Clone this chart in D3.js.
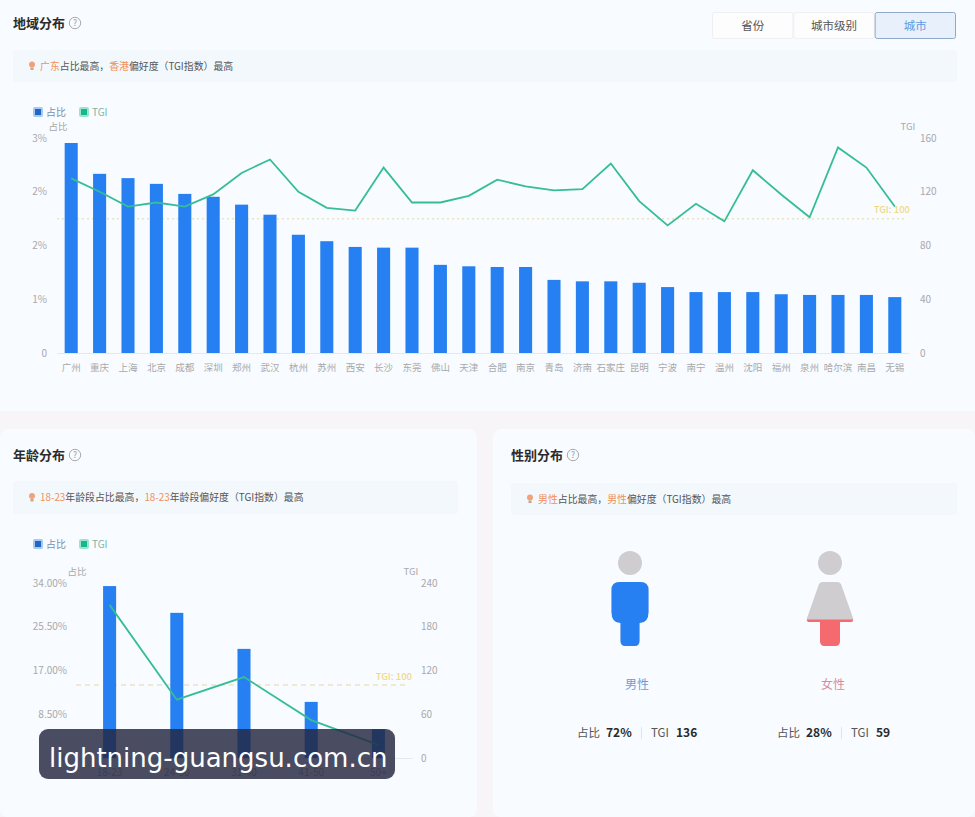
<!DOCTYPE html>
<html><head><meta charset="utf-8">
<script src="https://cdn.jsdelivr.net/npm/d3@7"></script>
<style>html,body{margin:0;padding:0;background:#f7f5f8;overflow:hidden}svg{display:block}text{font-family:"Noto Sans CJK SC","Noto Sans",sans-serif}</style>
</head><body><svg id="c" width="975" height="817"></svg>
<script>
const cities=["广州","重庆","上海","北京","成都","深圳","郑州","武汉","杭州","苏州","西安","长沙","东莞","佛山","天津","合肥","南京","青岛","济南","石家庄","昆明","宁波","南宁","温州","沈阳","福州","泉州","哈尔滨","南昌","无锡"];
const cityShare=[2.93,2.50,2.44,2.36,2.22,2.18,2.07,1.93,1.65,1.56,1.48,1.47,1.47,1.23,1.21,1.20,1.20,1.02,1.00,1.00,0.98,0.92,0.85,0.85,0.85,0.82,0.81,0.81,0.81,0.78];
const cityTgi=[130,120,109,112,109,118,134,144,120,108,106,138,112,112,117,129,124,121,122,141,113,95,111,98,136,118,101,153,138,109];
const cityShareTicks=[0,0.75,1.5,2.25,3];
const cityShareLabels=["0","1%","2%","2%","3%"];
const cityTgiTicks=[0,40,80,120,160];
const ages=["18-23","24-30","31-40","41-50","50+"];
const ageShare=[33.4,28.2,21.2,10.9,5.6];
const ageTgi=[210,80,111,52,18];
const ageShareTicks=[0,8.5,17,25.5,34];
const ageShareLabels=["0","8.50%","17.00%","25.50%","34.00%"];
const ageTgiTicks=[0,60,120,180,240];
const genders=["男性","女性"];
const genderShare=[72,28];
const genderTgi=[136,59];
const tabs=["省份","城市级别","城市"];
const TGI_REF=100;

const BLUE="#2680f2",GREEN="#35bd98",ORANGE="#f0905a",GREY="#a9a9ab";
const svg=d3.select("#c");

// cards
const cards=[[0,0,975,411,0],[0,429,477,388,8],[493,429,482,388,8]];
svg.append("g").selectAll("rect").data(cards).join("rect")
 .attr("x",d=>d[0]).attr("y",d=>d[1]).attr("width",d=>d[2]).attr("height",d=>d[3]).attr("rx",d=>d[4])
 .attr("fill","#f8fbff");

function title(x,y,t){
 svg.append("text").attr("x",x).attr("y",y+4.5).attr("font-size",13).attr("font-weight",700).attr("fill","#2b2b2b").text(t);
 const cx=x+62;
 svg.append("circle").attr("cx",cx).attr("cy",y).attr("r",5.7).attr("fill","none").attr("stroke","#aaa");
 svg.append("text").attr("x",cx).attr("y",y+3).attr("font-size",8.5).attr("text-anchor","middle").attr("fill","#999").text("?");
}
function tip(x,y,w,h,parts){
 svg.append("rect").attr("x",x).attr("y",y).attr("width",w).attr("height",h).attr("rx",3).attr("fill","#f3f8fd");
 const cy=y+h/2;
 svg.append("circle").attr("cx",x+19).attr("cy",cy-1.5).attr("r",3).attr("fill","#f1a27a");
 svg.append("rect").attr("x",x+17.5).attr("y",cy+1.5).attr("width",3).attr("height",2.5).attr("fill","#c9a58e");
 const t=svg.append("text").attr("x",x+27).attr("y",cy+3.5).attr("font-size",9.9).attr("fill","#555");
 parts.forEach(p=>t.append("tspan").attr("fill",p[1]?ORANGE:"#555").text(p[0]));
}
function legend(y){
 [[33,"#a9c8ee","#1f66c8","占比","#7f8fa5"],[79,"#9fe3cf","#12b98c","TGI","#7fb5a5"]].forEach(l=>{
  svg.append("rect").attr("x",l[0]).attr("y",y).attr("width",10).attr("height",10).attr("rx",2).attr("fill",l[1]);
  svg.append("rect").attr("x",l[0]+2).attr("y",y+2).attr("width",6).attr("height",6).attr("fill",l[2]);
  svg.append("text").attr("x",l[0]+13).attr("y",y+8.5).attr("font-size",10).attr("fill",l[4]).text(l[3]);
 });
}
function combo(o){
 const g=svg.append("g");
 const x=d3.scaleBand().domain(o.cats).range(o.xr).paddingInner(o.pad).paddingOuter(o.pad/2);
 const y=d3.scaleLinear().domain(o.sd).range(o.yr);
 const y2=d3.scaleLinear().domain(o.td).range(o.yr);
 // axes
 const left=d3.axisLeft(y).tickValues(o.sTicks).tickFormat((d,i)=>o.sLabels[i]).tickSize(0).tickPadding(0);
 const lg=g.append("g").attr("transform",`translate(${o.xr[0]-o.lgap},0)`).call(left);
 const right=d3.axisRight(y2).tickValues(o.tTicks).tickSize(0).tickPadding(0);
 const rg=g.append("g").attr("transform",`translate(${o.xr[1]+o.rgap},0)`).call(right);
 [lg,rg].forEach(a=>{a.select(".domain").remove();a.selectAll("text").attr("font-size",10).attr("fill",GREY).style("font-family",'"Noto Sans CJK SC"');});
 const bottom=d3.axisBottom(x).tickSize(0).tickPadding(11);
 const bg=g.append("g").attr("transform",`translate(0,${o.yr[0]})`).call(bottom);
 bg.select(".domain").attr("stroke","#e6e8ec");
 bg.selectAll("text").attr("font-size",o.catSize).attr("fill",GREY).style("font-family",'"Noto Sans CJK SC"');
 // axis titles
 g.append("text").attr("x",o.xr[0]+1).attr("y",o.yr[1]-8).attr("font-size",9.5).attr("text-anchor","middle").attr("fill",GREY).text("占比");
 g.append("text").attr("x",o.xr[1]-1).attr("y",o.yr[1]-8).attr("font-size",9.5).attr("text-anchor","middle").attr("fill",GREY).text("TGI");
 // reference, under the bars
 g.append("line").attr("x1",o.xr[0]).attr("x2",o.xr[1]-o.refInset).attr("y1",y2(TGI_REF)).attr("y2",y2(TGI_REF))
  .attr("stroke","#ece4bd").attr("stroke-width",1.5).attr("stroke-dasharray",o.dash);
 g.append("text").attr("x",o.xr[1]-o.refInset+o.refDx).attr("y",y2(TGI_REF)-5.5).attr("font-size",9.5).attr("font-weight",500).attr("text-anchor","end").attr("fill","#eed98a").text("TGI: 100");
 // bars
 g.append("g").selectAll("rect").data(o.cats).join("rect")
  .attr("x",d=>x(d)).attr("width",x.bandwidth())
  .attr("y",(d,i)=>y(o.share[i])).attr("height",(d,i)=>y(0)-y(o.share[i]))
  .attr("fill",BLUE);
 // line
 const line=d3.line().x((d,i)=>x(o.cats[i])+x.bandwidth()/2).y(d=>y2(d));
 g.append("path").datum(o.tgi).attr("d",line).attr("fill","none").attr("stroke",GREEN).attr("stroke-width",1.8);
}

// --- region
title(13,23,"地域分布");
const tabX=d3.scaleBand().domain(tabs).range([712,956]);
svg.append("g").selectAll("rect").data(tabs).join("rect")
 .attr("x",d=>tabX(d)+.5).attr("y",12.5).attr("width",tabX.bandwidth()-1).attr("height",26).attr("rx",2)
 .attr("fill",(d,i)=>i==2?"#e8f1fb":"#fdfdfe").attr("stroke",(d,i)=>i==2?"#8fa9c8":"#eef0f3");
svg.append("g").selectAll("text").data(tabs).join("text")
 .attr("x",d=>tabX(d)+tabX.bandwidth()/2).attr("y",29.5).attr("text-anchor","middle").attr("font-size",11.5)
 .attr("fill",(d,i)=>i==2?"#5f9ae0":"#555").text(d=>d);
tip(13,50,944,32,[["广东",1],["占比最高，"],["香港",1],["偏好度（TGI指数）最高"]]);
legend(107);
combo({cats:cities,share:cityShare,tgi:cityTgi,sd:[0,3],td:[0,160],xr:[57,909],yr:[353,138],pad:.54,
 sTicks:cityShareTicks,sLabels:cityShareLabels,tTicks:cityTgiTicks,lgap:10,rgap:11,catSize:9.5,refInset:4,refDx:5,dash:"2 3"});

// --- age
title(13,455,"年龄分布");
tip(13,481,445,33,[["18-23",1],["年龄段占比最高，"],["18-23",1],["年龄段偏好度（TGI指数）最高"]]);
legend(539);
combo({cats:ages,share:ageShare,tgi:ageTgi,sd:[0,34],td:[0,240],xr:[76,412],yr:[758,583],pad:.806,
 sTicks:ageShareTicks,sLabels:ageShareLabels,tTicks:ageTgiTicks,lgap:9,rgap:9,catSize:10,refInset:4,refDx:4,dash:"5 4"});

// --- gender
title(511,455,"性别分布");
tip(511,483,446,32,[["男性",1],["占比最高，"],["男性",1],["偏好度（TGI指数）最高"]]);
const fillY=d3.scaleLinear().domain([0,100]).range([646,551]);
const person=[
 {cx:630,body:"M-18.5 27 Q-18.5 19 -10.5 19 H10.5 Q18.5 19 18.5 27 V49 Q18.5 60 9.5 60 V78 Q9.5 83 4.5 83 H-4.5 Q-9.5 83 -9.5 78 V60 Q-18.5 60 -18.5 49 Z",col:BLUE,lab:"#6c9bd6",lx:637,sx:577},
 {cx:830,body:"M-11 21 Q-10 19 -7 19 H7 Q10 19 11 21 L23 55 Q24 59 20 59 H10 V78 Q10 83 5 83 H-5 Q-10 83 -10 78 V59 H-20 Q-24 59 -23 55 Z",col:"#f56a6e",lab:"#d98d9c",lx:833,sx:777}
];
const defs=svg.append("defs");
person.forEach((p,i)=>{
 const g=svg.append("g").attr("transform",`translate(${p.cx},563)`);
 const id="clip"+i;
 defs.append("clipPath").attr("id",id).append("rect").attr("x",p.cx-40).attr("width",80).attr("y",fillY(genderShare[i])).attr("height",646-fillY(genderShare[i])+1);
 g.append("circle").attr("r",12).attr("fill","#cfcdd0");
 g.append("path").attr("d",p.body).attr("fill","#cfcdd0");
 svg.append("g").attr("clip-path",`url(#${id})`).append("path").attr("transform",`translate(${p.cx},563)`).attr("d",p.body).attr("fill",p.col);
 svg.append("text").attr("x",p.lx).attr("y",688.5).attr("text-anchor","middle").attr("font-size",12).attr("fill",p.lab).text(genders[i]);
 const s=p.sx,ty=737;
 const T=(x,t,b,c)=>svg.append("text").attr("x",x).attr("y",ty).attr("font-size",b?12:11.5).attr("font-weight",b?700:400).attr("fill",c||"#555").text(t);
 T(s,"占比");T(s+29,genderShare[i]+"%",1,"#2b2b2b");
 svg.append("line").attr("x1",s+64.5).attr("x2",s+64.5).attr("y1",727).attr("y2",739).attr("stroke","#e2e4e8");
 T(s+74,"TGI");T(s+99,genderTgi[i],1,"#2b2b2b");
});

// --- site badge
const wm=svg.append("g");
wm.append("rect").attr("x",39).attr("y",729).attr("width",356).attr("height",50).attr("rx",9).attr("fill","#23263f").attr("fill-opacity",.82);
wm.append("text").attr("x",49).attr("y",767).attr("font-size",26).attr("fill","#fff").style("font-family","'DejaVu Sans'").text("lightning-guangsu.com.cn");
</script></body></html>
